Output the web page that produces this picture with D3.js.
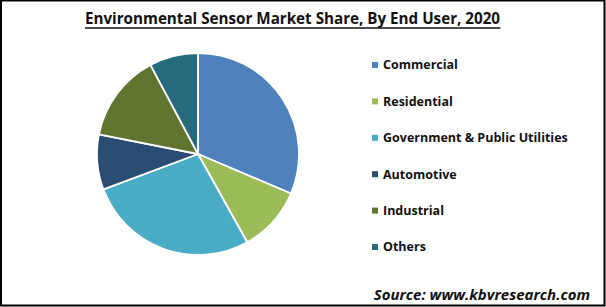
<!DOCTYPE html>
<html><head><meta charset="utf-8">
<script src="https://cdn.jsdelivr.net/npm/d3@7"></script>
<style>html,body{margin:0;padding:0;background:#fff;}svg{display:block;}</style>
</head><body>
<script>
const categories = ["Commercial", "Residential", "Government & Public Utilities", "Automotive", "Industrial", "Others"];
const values = [31.4, 10.5, 27.4, 8.8, 14.1, 7.8];
const colors = ["#4F81BD", "#9BBB59", "#4BACC6", "#2A4B72", "#5F7530", "#276A7C"];
const title = "Environmental Sensor Market Share, By End User, 2020";
const source = "Source: www.kbvresearch.com";

const W = 606, H = 307;
const svg = d3.select("body").append("svg").attr("width", W).attr("height", H);
svg.append("rect").attr("x", 1).attr("y", 0.5).attr("width", W - 2.5).attr("height", H - 2)
  .attr("fill", "#fff").attr("stroke", "#000").attr("stroke-width", 2);

const font = "'Open Sans', 'DejaVu Sans', sans-serif";
const t = svg.append("text").attr("x", 292.5).attr("y", 24).attr("text-anchor", "middle")
  .attr("font-family", font).attr("font-weight", "bold").attr("font-size", 15.2)
  .attr("fill", "#111").text(title);
const bb = t.node().getBBox();
svg.append("line").attr("x1", bb.x).attr("x2", bb.x + bb.width).attr("y1", 28).attr("y2", 28)
  .attr("stroke", "#111").attr("stroke-width", 1.4);

const cx = 198, cy = 154, r = 101;
const pie = d3.pie().sort(null).value(d => d)(values);
const arc = d3.arc().innerRadius(0).outerRadius(r);
const color = d3.scaleOrdinal().domain(categories).range(colors);
svg.append("g").attr("transform", `translate(${cx},${cy})`)
  .selectAll("path").data(pie).join("path")
  .attr("d", arc).attr("fill", (d, i) => color(categories[i]))
  .attr("stroke", "#fff").attr("stroke-width", 1.8).attr("stroke-linejoin", "round");

const ly = d3.scalePoint().domain(categories).range([65, 247]);
const lg = svg.append("g");
categories.forEach(c => {
  lg.append("rect").attr("x", 372).attr("y", ly(c) - 3).attr("width", 6).attr("height", 6).attr("fill", color(c));
  lg.append("text").attr("x", 383).attr("y", ly(c)).attr("dy", "0.35em")
    .attr("font-family", font).attr("font-weight", "bold").attr("font-size", 12.5)
    .attr("fill", "#111").text(c);
});

svg.append("text").attr("x", 590).attr("y", 300).attr("text-anchor", "end")
  .attr("font-family", font).attr("font-weight", "bold").attr("font-style", "italic").attr("font-size", 15)
  .attr("fill", "#111").text(source);
</script>
</body></html>
